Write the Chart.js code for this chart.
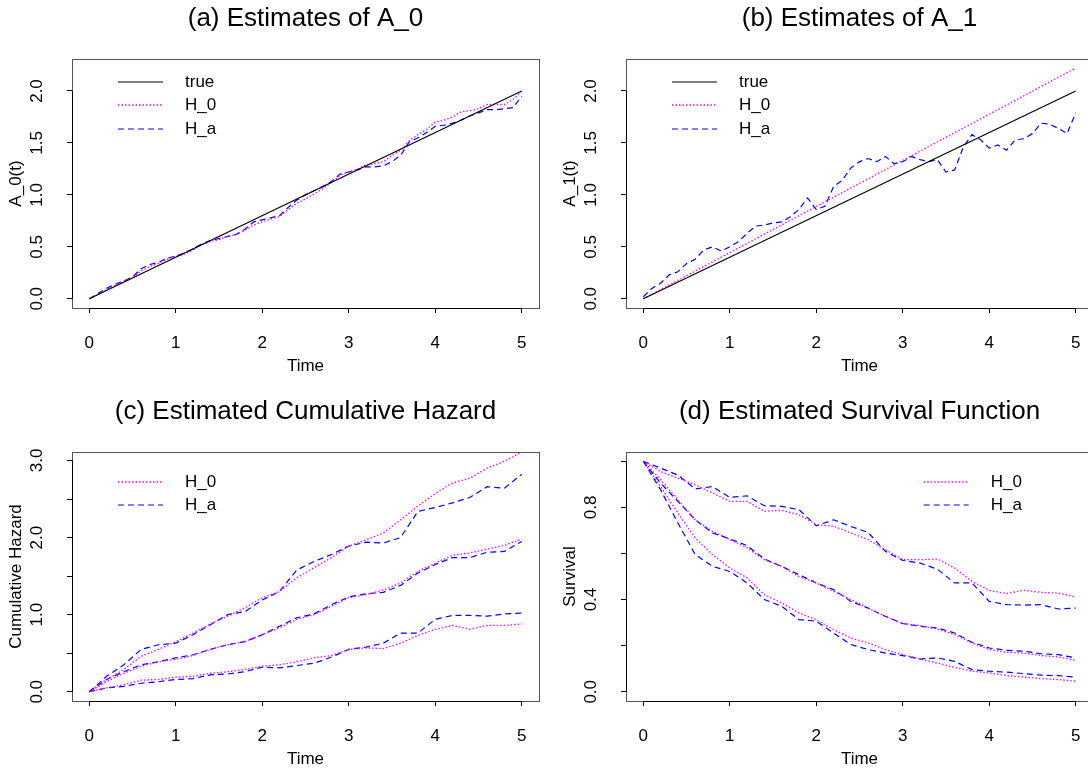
<!DOCTYPE html>
<html>
<head>
<meta charset="utf-8">
<script src="https://cdn.jsdelivr.net/npm/chart.js@4.4.0/dist/chart.umd.min.js"></script>
<style>
html, body { margin: 0; padding: 0; background: #fff; }
body { width: 1088px; height: 772px; overflow: hidden; position: relative; }
canvas { position: absolute; }
</style>
</head>
<body>
<canvas id="chartA" width="554" height="393" style="left:0;top:0"></canvas>
<canvas id="chartB" width="554" height="393" style="left:554px;top:0"></canvas>
<canvas id="chartC" width="554" height="393" style="left:0;top:393px"></canvas>
<canvas id="chartD" width="554" height="393" style="left:554px;top:393px"></canvas>
<script>
// time grids
const timeFine = [0, 0.1, 0.2, 0.3, 0.4, 0.5, 0.6, 0.7, 0.8, 0.9, 1.0, 1.1, 1.2, 1.3, 1.4, 1.5, 1.6, 1.7, 1.8, 1.9,
    2.0, 2.1, 2.2, 2.3, 2.4, 2.5, 2.6, 2.7, 2.8, 2.9, 3.0, 3.1, 3.2, 3.3, 3.4, 3.5, 3.6, 3.7, 3.8, 3.9,
    4.0, 4.1, 4.2, 4.3, 4.4, 4.5, 4.6, 4.7, 4.8, 4.9, 5.0];
const timeCoarse = [0, 0.2, 0.4, 0.6, 0.8, 1.0, 1.2, 1.4, 1.6, 1.8, 2.0, 2.2, 2.4, 2.6, 2.8, 3.0, 3.2, 3.4, 3.6, 3.8,
    4.0, 4.2, 4.4, 4.6, 4.8, 5.0];
const timeEnds = [0, 5];

// (a) A_0
const a0True = [0, 2.0];
const a0H0 = [0, 0.04, 0.09, 0.13, 0.17, 0.20, 0.27, 0.31, 0.34, 0.38, 0.41, 0.43, 0.47, 0.52, 0.55, 0.57, 0.60, 0.62, 0.66, 0.71,
    0.74, 0.77, 0.79, 0.86, 0.92, 0.96, 1.01, 1.06, 1.12, 1.19, 1.22, 1.25, 1.29, 1.30, 1.32, 1.38, 1.43, 1.52, 1.58, 1.63,
    1.70, 1.72, 1.75, 1.80, 1.81, 1.83, 1.87, 1.87, 1.87, 1.92, 2.0];
const a0Ha = [0, 0.05, 0.10, 0.14, 0.17, 0.21, 0.29, 0.33, 0.35, 0.39, 0.41, 0.44, 0.48, 0.53, 0.56, 0.58, 0.60, 0.62, 0.67, 0.74,
    0.76, 0.78, 0.80, 0.88, 0.95, 1.00, 1.04, 1.08, 1.13, 1.20, 1.22, 1.24, 1.27, 1.27, 1.28, 1.32, 1.38, 1.51, 1.55, 1.60,
    1.66, 1.67, 1.69, 1.72, 1.76, 1.79, 1.82, 1.82, 1.83, 1.84, 1.95];

// (b) A_1
const a1True = [0, 2.0];
const a1H0 = [0, 2.22];
const a1Ha = [0.02, 0.10, 0.15, 0.23, 0.26, 0.34, 0.38, 0.47, 0.50, 0.46, 0.50, 0.55, 0.63, 0.70, 0.71, 0.73, 0.74, 0.79, 0.86, 0.97,
    0.86, 0.89, 1.08, 1.14, 1.26, 1.32, 1.35, 1.32, 1.37, 1.30, 1.32, 1.37, 1.34, 1.32, 1.34, 1.22, 1.24, 1.46, 1.58, 1.53,
    1.45, 1.48, 1.43, 1.53, 1.54, 1.59, 1.69, 1.68, 1.64, 1.59, 1.79];

// (c) cumulative hazard, three groups
const hazH0Top = [0, 0.16, 0.29, 0.46, 0.55, 0.65, 0.76, 0.88, 0.98, 1.09, 1.22, 1.30, 1.48, 1.61, 1.74, 1.89, 1.97, 2.06, 2.23, 2.41, 2.57, 2.71, 2.77, 2.90, 2.99, 3.11];
const hazHaTop = [0, 0.20, 0.35, 0.55, 0.61, 0.63, 0.74, 0.87, 1.00, 1.04, 1.19, 1.30, 1.58, 1.69, 1.78, 1.89, 1.94, 1.93, 2.00, 2.34, 2.39, 2.45, 2.52, 2.66, 2.64, 2.82];
const hazH0Mid = [0, 0.13, 0.24, 0.33, 0.39, 0.42, 0.47, 0.55, 0.61, 0.65, 0.74, 0.83, 0.94, 1.00, 1.11, 1.22, 1.26, 1.32, 1.41, 1.56, 1.67, 1.77, 1.80, 1.85, 1.90, 1.98];
const hazHaMid = [0, 0.16, 0.26, 0.35, 0.39, 0.44, 0.48, 0.55, 0.61, 0.65, 0.74, 0.85, 0.96, 1.01, 1.13, 1.23, 1.27, 1.29, 1.38, 1.54, 1.65, 1.74, 1.74, 1.81, 1.82, 1.95];
const hazH0Low = [0, 0.05, 0.09, 0.15, 0.16, 0.19, 0.20, 0.24, 0.26, 0.29, 0.33, 0.35, 0.39, 0.44, 0.47, 0.55, 0.57, 0.56, 0.63, 0.73, 0.81, 0.86, 0.81, 0.86, 0.86, 0.88];
const hazHaLow = [0, 0.05, 0.07, 0.11, 0.13, 0.16, 0.17, 0.22, 0.23, 0.26, 0.32, 0.31, 0.34, 0.37, 0.45, 0.55, 0.58, 0.63, 0.76, 0.76, 0.94, 0.99, 0.99, 0.98, 1.01, 1.02];

// (d) survival, three groups
const survH0Top = [1.0, 0.955, 0.927, 0.898, 0.862, 0.826, 0.826, 0.783, 0.787, 0.768, 0.725, 0.718, 0.689, 0.66, 0.616, 0.573, 0.573, 0.576, 0.537, 0.479, 0.44, 0.426, 0.44, 0.431, 0.428, 0.411];
const survHaTop = [1.0, 0.97, 0.94, 0.88, 0.89, 0.843, 0.85, 0.807, 0.804, 0.79, 0.72, 0.746, 0.717, 0.691, 0.609, 0.57, 0.558, 0.532, 0.472, 0.472, 0.392, 0.378, 0.376, 0.378, 0.359, 0.363];
const survH0Mid = [1.0, 0.92, 0.833, 0.746, 0.696, 0.66, 0.624, 0.573, 0.544, 0.50, 0.472, 0.436, 0.40, 0.363, 0.327, 0.296, 0.287, 0.272, 0.248, 0.212, 0.183, 0.171, 0.168, 0.157, 0.151, 0.137];
const survHaMid = [1.0, 0.905, 0.826, 0.746, 0.689, 0.663, 0.634, 0.576, 0.544, 0.508, 0.472, 0.443, 0.392, 0.363, 0.327, 0.296, 0.284, 0.277, 0.255, 0.215, 0.19, 0.18, 0.176, 0.165, 0.161, 0.147];
const survH0Low = [1.0, 0.89, 0.775, 0.667, 0.595, 0.537, 0.494, 0.421, 0.385, 0.342, 0.313, 0.27, 0.233, 0.212, 0.183, 0.161, 0.142, 0.125, 0.106, 0.089, 0.082, 0.07, 0.064, 0.057, 0.053, 0.046];
const survHaLow = [1.0, 0.876, 0.732, 0.595, 0.544, 0.522, 0.472, 0.40, 0.371, 0.313, 0.306, 0.255, 0.205, 0.183, 0.168, 0.157, 0.142, 0.147, 0.132, 0.096, 0.089, 0.085, 0.079, 0.072, 0.07, 0.064];

// ticks
const xTicks = [0, 1, 2, 3, 4, 5];
const yTicksA = [0, 0.5, 1.0, 1.5, 2.0];
const yLabelsA = ['0.0', '0.5', '1.0', '1.5', '2.0'];
const yTicksC = [0, 0.5, 1.0, 1.5, 2.0, 2.5, 3.0];
const yLabelsC = ['0.0', '', '1.0', '', '2.0', '', '3.0'];
const yTicksD = [0, 0.2, 0.4, 0.6, 0.8, 1.0];
const yLabelsD = ['0.0', '', '0.4', '', '0.8', ''];

const FONT = '"Liberation Sans", Arial, Helvetica, sans-serif';
Chart.defaults.font.family = FONT;
Chart.defaults.color = '#000';

const styleTrue = { label: 'true', color: '#000000', dash: [], width: 1.2 };
const styleH0 = { label: 'H_0', color: '#ff00ff', dash: [1.5, 2], width: 1.3 };
const styleHa = { label: 'H_a', color: '#0000ff', dash: [6, 4], width: 1.2 };

function series(times, values, style) {
    return {
        label: style.label,
        data: times.map((t, i) => ({ x: t, y: values[i] })),
        borderColor: style.color,
        borderDash: style.dash,
        borderWidth: style.width,
        pointRadius: 0,
        tension: 0,
        fill: false
    };
}

// R style box plus axis lines from first to last tick
const rBox = {
    id: 'rBox',
    afterDraw(chart) {
        const ctx = chart.ctx, a = chart.chartArea;
        const x = chart.scales.x, y = chart.scales.y;
        const l = Math.round(a.left) + 0.5, t = Math.round(a.top) + 0.5;
        const r = Math.round(a.right) + 0.5, b = Math.round(a.bottom) + 0.5;
        ctx.save();
        ctx.lineWidth = 1;
        ctx.strokeStyle = '#555';
        ctx.strokeRect(l, t, r - l, b - t);
        ctx.strokeStyle = '#000';
        ctx.beginPath();
        ctx.moveTo(x.getPixelForValue(x.ticks[0].value), b);
        ctx.lineTo(x.getPixelForValue(x.ticks[x.ticks.length - 1].value), b);
        ctx.moveTo(l, y.getPixelForValue(y.ticks[0].value));
        ctx.lineTo(l, y.getPixelForValue(y.ticks[y.ticks.length - 1].value));
        ctx.stroke();
        ctx.restore();
    }
};

// legend inside the plot region, no frame (bty = "n")
const rLegend = {
    id: 'rLegend',
    afterDraw(chart, args, opts) {
        if (!opts || !opts.items) return;
        const ctx = chart.ctx, a = chart.chartArea;
        ctx.save();
        ctx.font = '17px ' + FONT;
        ctx.textBaseline = 'middle';
        ctx.textAlign = 'left';
        opts.items.forEach((it, i) => {
            const yy = Math.round(a.top + opts.top + i * 23.6);
            const x0 = a.left + opts.left;
            ctx.beginPath();
            ctx.strokeStyle = it.color;
            ctx.lineWidth = it.width;
            ctx.setLineDash(it.dash);
            ctx.moveTo(x0, yy);
            ctx.lineTo(x0 + 45, yy);
            ctx.stroke();
            ctx.setLineDash([]);
            ctx.fillStyle = '#000';
            ctx.fillText(it.label, x0 + 67, yy);
        });
        ctx.restore();
    }
};

Chart.register(rBox, rLegend);

function makeChart(id, title, yTitle, yMin, yMax, yTicks, yLabels, datasets, legendPos) {
    const ctx = document.getElementById(id).getContext('2d');
    return new Chart(ctx, {
        type: 'line',
        data: { datasets: datasets },
        options: {
            responsive: false,
            animation: false,
            devicePixelRatio: 1,
            layout: { padding: { left: 0, right: 15, top: 0, bottom: 0 } },
            plugins: {
                legend: { display: false },
                tooltip: { enabled: false },
                title: {
                    display: true,
                    text: title,
                    fullSize: false,
                    color: '#000',
                    font: { size: 26, weight: 'normal' },
                    padding: { top: 3, bottom: 24.8 }
                },
                rLegend: legendPos
            },
            scales: {
                x: {
                    type: 'linear',
                    min: -0.2,
                    max: 5.2,
                    afterBuildTicks: s => { s.ticks = xTicks.map(v => ({ value: v })); },
                    afterFit: s => { s.height = 85; },
                    border: { display: false },
                    grid: { drawOnChartArea: false, drawTicks: true, tickLength: 5, color: '#000', tickColor: '#000' },
                    ticks: {
                        autoSkip: false,
                        maxRotation: 0,
                        padding: 20.5,
                        font: { size: 17 },
                        color: '#000',
                        callback: v => String(v)
                    },
                    title: { display: true, text: 'Time', color: '#000', font: { size: 17 }, padding: { top: 0, bottom: 16 } }
                },
                y: {
                    type: 'linear',
                    min: yMin,
                    max: yMax,
                    afterBuildTicks: s => { s.ticks = yTicks.map(v => ({ value: v })); },
                    afterFit: s => { s.width = 72; },
                    border: { display: false },
                    grid: { drawOnChartArea: false, drawTicks: true, tickLength: 5, color: '#000', tickColor: '#000' },
                    ticks: {
                        autoSkip: false,
                        minRotation: 90,
                        maxRotation: 90,
                        crossAlign: 'center',
                        padding: 17.5,
                        font: { size: 17 },
                        color: '#000',
                        callback: (v, i) => yLabels[i]
                    },
                    title: { display: true, text: yTitle, color: '#000', font: { size: 17 }, padding: { top: 6, bottom: 0 } }
                }
            }
        }
    });
}

makeChart('chartA', '(a) Estimates of A_0', 'A_0(t)', -0.0888, 2.308, yTicksA, yLabelsA, [
    series(timeEnds, a0True, styleTrue),
    series(timeFine, a0H0, styleH0),
    series(timeFine, a0Ha, styleHa)
], { left: 46, top: 22.7, items: [styleTrue, styleH0, styleHa] });

makeChart('chartB', '(b) Estimates of A_1', 'A_1(t)', -0.0888, 2.308, yTicksA, yLabelsA, [
    series(timeEnds, a1True, styleTrue),
    series(timeEnds, a1H0, styleH0),
    series(timeFine, a1Ha, styleHa)
], { left: 46, top: 22.7, items: [styleTrue, styleH0, styleHa] });

makeChart('chartC', '(c) Estimated Cumulative Hazard', 'Cumulative Hazard', -0.12, 3.11, yTicksC, yLabelsC, [
    series(timeCoarse, hazH0Top, styleH0),
    series(timeCoarse, hazHaTop, styleHa),
    series(timeCoarse, hazH0Mid, styleH0),
    series(timeCoarse, hazHaMid, styleHa),
    series(timeCoarse, hazH0Low, styleH0),
    series(timeCoarse, hazHaLow, styleHa)
], { left: 46, top: 29.7, items: [styleH0, styleHa] });

makeChart('chartD', '(d) Estimated Survival Function', 'Survival', -0.04, 1.04, yTicksD, yLabelsD, [
    series(timeCoarse, survH0Top, styleH0),
    series(timeCoarse, survHaTop, styleHa),
    series(timeCoarse, survH0Mid, styleH0),
    series(timeCoarse, survHaMid, styleHa),
    series(timeCoarse, survH0Low, styleH0),
    series(timeCoarse, survHaLow, styleHa)
], { left: 297.7, top: 29.7, items: [styleH0, styleHa] });
</script>
</body>
</html>
